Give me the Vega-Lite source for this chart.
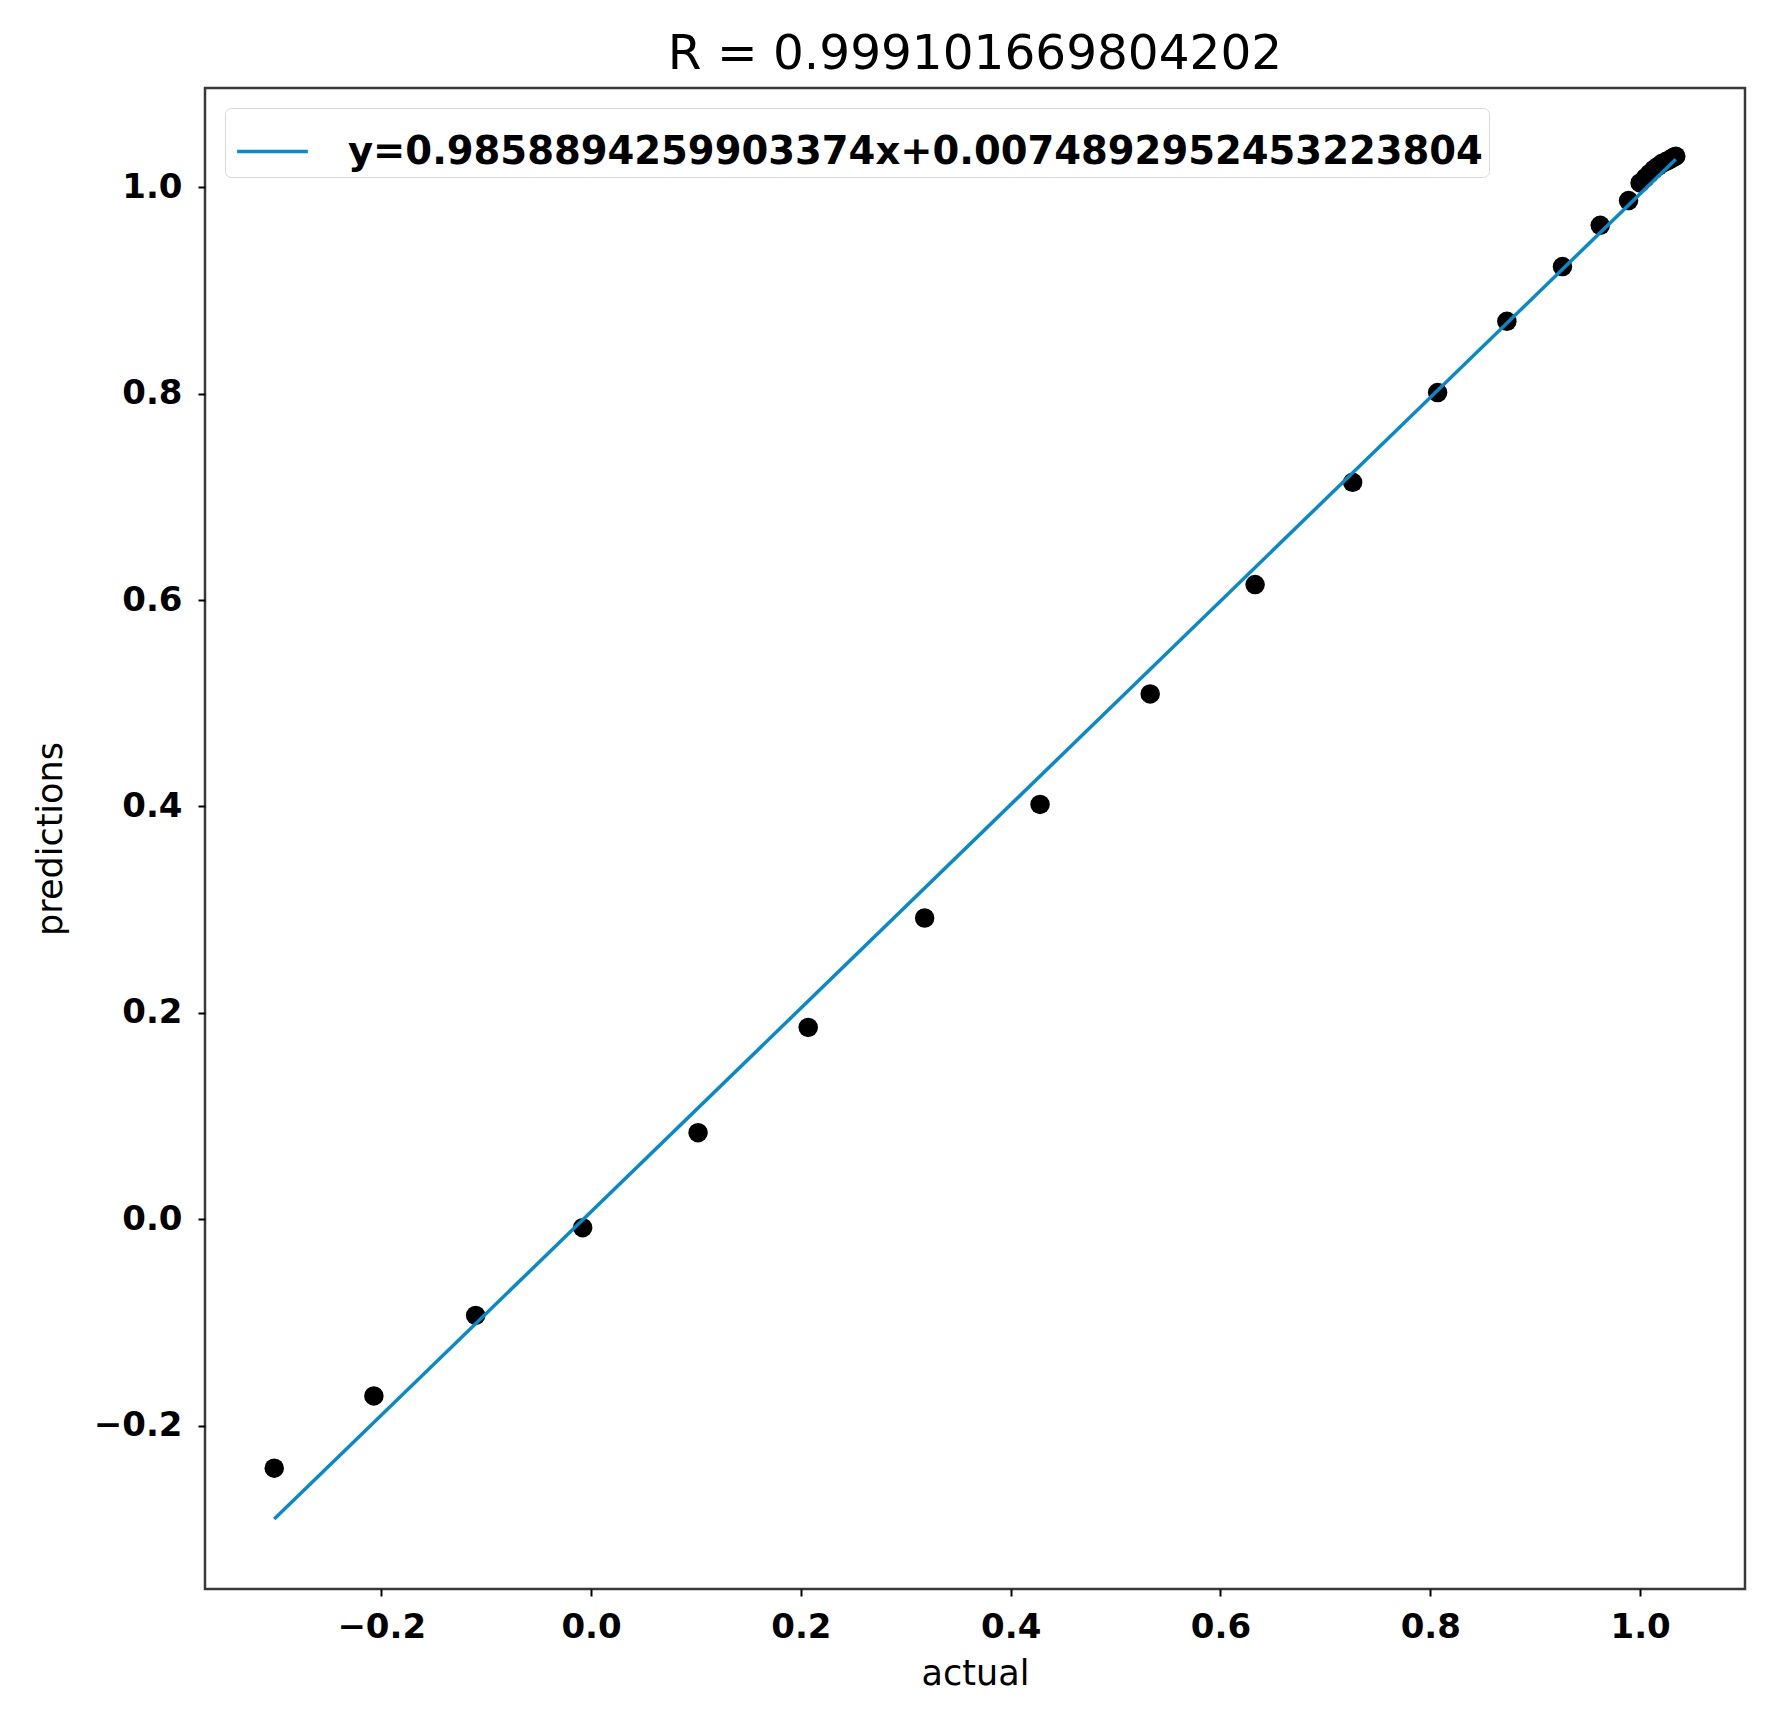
{
  "$schema": "https://vega.github.io/schema/vega-lite/v6.json",
  "autosize": "none",
  "width": 1540,
  "height": 1501,
  "padding": {"left": 205, "top": 88, "right": 30, "bottom": 126},
  "background": "white",
  "title": {
    "text": "R = 0.999101669804202",
    "font": "DejaVu Sans",
    "fontSize": 48.5,
    "fontWeight": "normal",
    "color": "#000000",
    "baseline": "alphabetic",
    "offset": 18,
    "dy": 47,
    "anchor": "middle"
  },
  "config": {
    "view": {"stroke": "#3a3a3a", "strokeWidth": 2.5},
    "axis": {
      "domain": false,
      "grid": false,
      "ticks": true,
      "tickColor": "#000000",
      "tickSize": 7,
      "tickWidth": 2,
      "labelFont": "DejaVu Sans",
      "labelFontWeight": "bold",
      "labelFontSize": 34,
      "labelColor": "#000000",
      "titleFont": "DejaVu Sans",
      "titleFontWeight": "normal",
      "titleFontSize": 35,
      "titleColor": "#000000"
    }
  },
  "datasets": {
    "pts": [
      {"actual": -0.302, "pred": -0.241},
      {"actual": -0.207, "pred": -0.171},
      {"actual": -0.110, "pred": -0.093},
      {"actual": -0.008, "pred": -0.008},
      {"actual": 0.102, "pred": 0.084},
      {"actual": 0.207, "pred": 0.186},
      {"actual": 0.318, "pred": 0.292},
      {"actual": 0.428, "pred": 0.402},
      {"actual": 0.533, "pred": 0.509},
      {"actual": 0.633, "pred": 0.615},
      {"actual": 0.726, "pred": 0.714},
      {"actual": 0.807, "pred": 0.801},
      {"actual": 0.873, "pred": 0.870},
      {"actual": 0.926, "pred": 0.923},
      {"actual": 0.962, "pred": 0.963},
      {"actual": 0.989, "pred": 0.987},
      {"actual": 1.000, "pred": 1.004},
      {"actual": 1.005, "pred": 1.009},
      {"actual": 1.009, "pred": 1.013},
      {"actual": 1.013, "pred": 1.017},
      {"actual": 1.017, "pred": 1.020},
      {"actual": 1.021, "pred": 1.023},
      {"actual": 1.025, "pred": 1.025},
      {"actual": 1.029, "pred": 1.027},
      {"actual": 1.032, "pred": 1.029},
      {"actual": 1.034, "pred": 1.030}
    ],
    "fit": [
      {"actual": -0.302, "pred": -0.2903, "label": "y=0.9858894259903374x+0.0074892952453223804"},
      {"actual": 1.034, "pred": 1.0269, "label": "y=0.9858894259903374x+0.0074892952453223804"}
    ]
  },
  "layer": [
    {
      "data": {"name": "pts"},
      "mark": {"type": "point", "filled": true, "color": "#000000", "opacity": 1, "size": 380},
      "encoding": {
        "x": {
          "field": "actual", "type": "quantitative",
          "scale": {"domain": [-0.368, 1.100], "nice": false, "zero": false},
          "axis": {"title": "actual", "values": [-0.2, 0, 0.2, 0.4, 0.6, 0.8, 1.0], "format": ".1f", "labelPadding": 14, "titleBaseline": "alphabetic", "titleY": 95}
        },
        "y": {
          "field": "pred", "type": "quantitative",
          "scale": {"domain": [-0.358, 1.096], "nice": false, "zero": false},
          "axis": {"title": "predictions", "values": [-0.2, 0, 0.2, 0.4, 0.6, 0.8, 1.0], "format": ".1f", "labelPadding": 16, "titleAngle": -90, "titleBaseline": "alphabetic", "titleX": -144}
        }
      }
    },
    {
      "data": {"name": "fit"},
      "mark": {"type": "line", "strokeWidth": 3.5},
      "encoding": {
        "x": {"field": "actual", "type": "quantitative"},
        "y": {"field": "pred", "type": "quantitative"},
        "color": {
          "field": "label", "type": "nominal",
          "scale": {"range": ["#0b88c6"]},
          "legend": {
            "title": null,
            "orient": "none",
            "legendX": 20,
            "legendY": 20,
            "fillColor": "#ffffff",
            "strokeColor": "#d8d8d8",
            "cornerRadius": 6,
            "padding": 6,
            "symbolType": "stroke",
            "symbolSize": 5000,
            "symbolStrokeWidth": 3.5,
            "symbolOffset": 4,
            "labelOffset": 38,
            "labelFont": "DejaVu Sans",
            "labelFontWeight": "bold",
            "labelFontSize": 38.5,
            "labelColor": "#000000",
            "labelLimit": 3000
          }
        }
      }
    }
  ]
}
